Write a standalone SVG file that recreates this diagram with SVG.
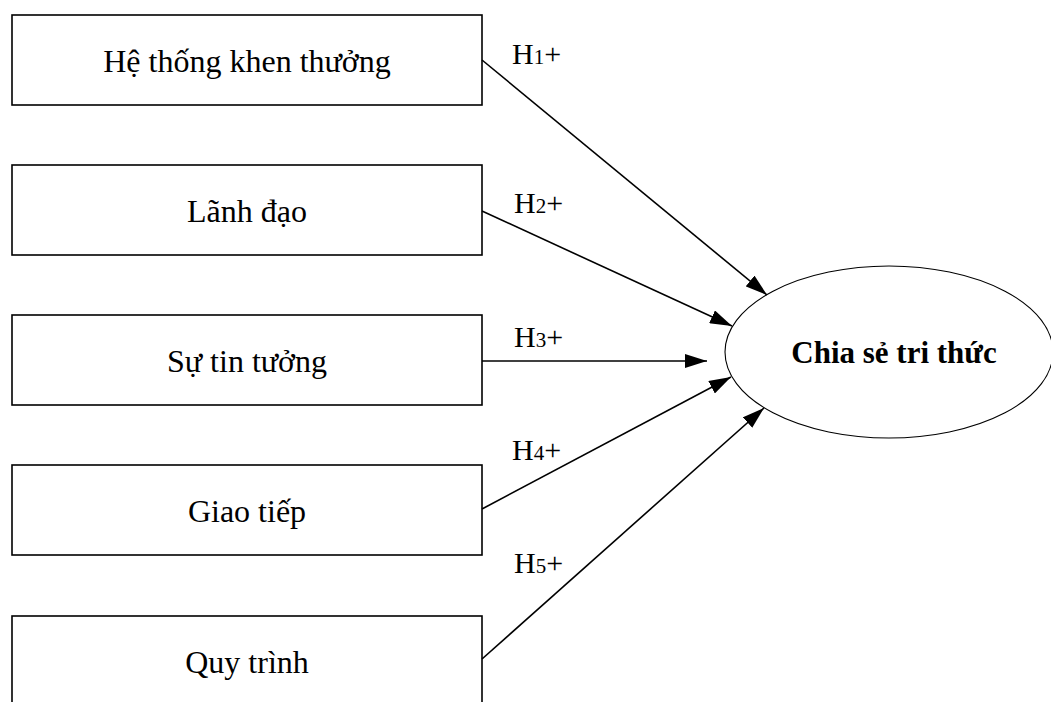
<svg xmlns="http://www.w3.org/2000/svg" width="1051" height="702" viewBox="0 0 1051 702">
<style>
.box{fill:#fff;stroke:#000;stroke-width:1.6}
.t{font-family:"Liberation Serif","Times New Roman",serif;font-size:32px;fill:#000;text-anchor:middle}
.b{font-weight:bold;font-size:31px}
.lbl{font-family:"Liberation Serif","Times New Roman",serif;font-size:30px;fill:#000}
.sub{font-size:21px}
.conn line{stroke:#000;stroke-width:1.6;fill:none}
</style>
<defs>
<marker id="ah" markerUnits="userSpaceOnUse" markerWidth="22" markerHeight="14" refX="22" refY="7" orient="auto">
<path d="M0,0 L22,7 L0,14 z" fill="#000"/>
</marker>
</defs>
<rect width="1051" height="702" fill="#fff"/>
<g id="n1"><rect class="box" x="12" y="15" width="470" height="90"/><text class="t" x="247" y="72">Hệ thống khen thưởng</text></g>
<g id="n2"><rect class="box" x="12" y="165" width="470" height="90"/><text class="t" x="247" y="222">Lãnh đạo</text></g>
<g id="n3"><rect class="box" x="12" y="315" width="470" height="90"/><text class="t" x="247" y="372">Sự tin tưởng</text></g>
<g id="n4"><rect class="box" x="12" y="465" width="470" height="90"/><text class="t" x="247" y="522">Giao tiếp</text></g>
<g id="n5"><rect class="box" x="12" y="616" width="470" height="100"/><text class="t" x="247" y="673">Quy trình</text></g>
<g id="n6"><ellipse cx="889" cy="352" rx="164" ry="86" fill="#fff" stroke="#000" stroke-width="1.1"/><text class="t b" x="894" y="363">Chia sẻ tri thức</text></g>
<g class="conn" id="connectors">
<line x1="482" y1="60" x2="767" y2="295" marker-end="url(#ah)"/>
<line x1="482" y1="211" x2="732" y2="326" marker-end="url(#ah)"/>
<line x1="482" y1="361" x2="707" y2="361" marker-end="url(#ah)"/>
<line x1="482" y1="509" x2="731" y2="377" marker-end="url(#ah)"/>
<line x1="482" y1="659" x2="764" y2="408" marker-end="url(#ah)"/>
</g>
<g id="labels">
<text class="lbl" x="512" y="64">H<tspan class="sub">1</tspan>+</text>
<text class="lbl" x="514" y="213">H<tspan class="sub">2</tspan>+</text>
<text class="lbl" x="514" y="347">H<tspan class="sub">3</tspan>+</text>
<text class="lbl" x="512" y="460">H<tspan class="sub">4</tspan>+</text>
<text class="lbl" x="514" y="573">H<tspan class="sub">5</tspan>+</text>
</g>
</svg>
